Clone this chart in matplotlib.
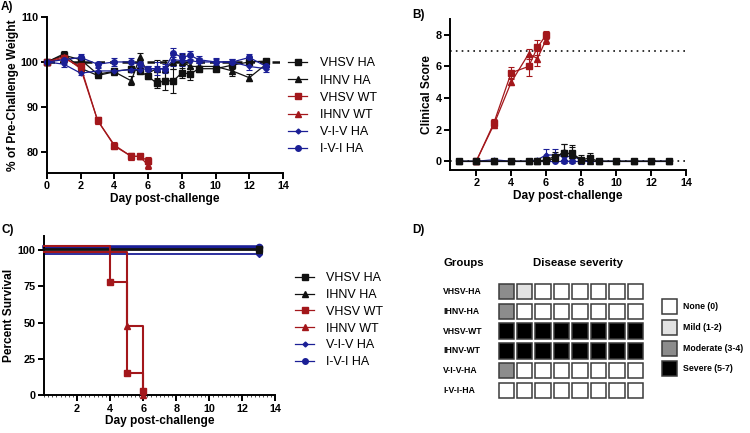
import matplotlib
matplotlib.use("Agg")
import matplotlib.pyplot as plt
from matplotlib.patches import Rectangle
from matplotlib.lines import Line2D

plt.rcParams['font.family'] = ['Liberation Sans', 'DejaVu Sans']

RED = '#a3171b'
BLUE = '#1b1f96'
BLK = '#111111'

# ---------------- Panel A data: weight ----------------
days_a = [0, 1, 2, 3, 4, 5, 5.5, 6, 6.5, 7, 7.5, 8, 8.5, 9, 10, 11, 12, 13]
vhsv_ha_w = [100, 101.5, 100.5, 97.3, 97.9, 98.4, 98.0, 96.8, 95.3, 95.8, 95.8, 97.6, 97.3, 98.5, 98.5, 99.3, 100.0, 100.2]
vhsv_ha_we = [0, 0.6, 0.6, 0.6, 0.5, 0.6, 0.6, 0.7, 1.0, 2.0, 2.6, 1.1, 1.3, 0.7, 0.6, 0.8, 0.5, 0.5]
ihnv_ha_w = [100, 101.8, 98.6, 97.0, 97.8, 95.8, 101.0, 97.5, 98.5, 98.5, 100.0, 100.0, 99.0, 99.0, 99.0, 98.0, 96.5, 99.5]
ihnv_ha_we = [0, 0.6, 0.6, 0.6, 0.5, 1.0, 1.0, 0.7, 2.0, 2.0, 1.5, 1.8, 1.5, 0.8, 0.7, 1.2, 0.8, 0.6]
vhsv_wt_w = [100, 100.8, 99.0, 87.0, 81.3, 79.0, 79.0, 78.0]
vhsv_wt_we = [0, 0.5, 0.6, 0.8, 0.6, 0.7, 0.5, 0.8]
ihnv_wt_w = [100, 101.2, 98.5, 87.0, 81.5, 79.0, 79.0, 77.0]
ihnv_wt_we = [0, 0.5, 0.6, 0.8, 0.6, 0.7, 0.5, 0.8]
viv_ha_w = [100, 99.5, 97.5, 98.0, 98.0, 98.3, 98.3, 98.5, 98.5, 98.5, 100.5, 100.3, 100.3, 100.0, 100.0, 100.0, 99.0, 98.5]
viv_ha_we = [0, 0.6, 0.5, 0.6, 0.5, 0.6, 0.6, 0.5, 1.5, 1.0, 1.5, 1.2, 1.2, 0.8, 0.8, 0.7, 0.8, 0.7]
ivi_ha_w = [100, 100.5, 101.0, 99.5, 100.0, 100.0, 99.5, 98.5, 98.5, 98.5, 102.0, 101.0, 101.5, 100.5, 100.0, 100.0, 101.0, 99.0]
ivi_ha_we = [0, 0.6, 0.7, 0.6, 0.8, 0.8, 0.7, 0.6, 0.6, 0.6, 1.0, 1.0, 0.9, 0.8, 0.7, 0.6, 0.8, 0.6]

# ---------------- Panel B data: clinical score ----------------
days_b = [1, 2, 3, 4, 5, 5.5, 6, 6.5, 7, 7.5, 8, 8.5, 9, 10, 11, 12, 13]
vhsv_ha_s = [0, 0, 0, 0, 0, 0, 0.1, 0.3, 0.5, 0.5, 0.1, 0.2, 0, 0, 0, 0, 0]
vhsv_ha_se = [0, 0, 0, 0, 0, 0, 0.1, 0.3, 0.6, 0.5, 0.3, 0.3, 0, 0, 0, 0, 0]
ihnv_ha_s = [0, 0, 0, 0, 0, 0, 0, 0.2, 0.6, 0.4, 0.1, 0, 0, 0, 0, 0, 0]
ihnv_ha_se = [0, 0, 0, 0, 0, 0, 0, 0.2, 0.5, 0.5, 0.2, 0, 0, 0, 0, 0, 0]
days_b_wt = [2, 3, 4, 5, 5.5, 6]
vhsv_wt_s = [0, 2.4, 5.6, 6.0, 7.2, 8.0]
vhsv_wt_se = [0, 0.25, 0.35, 0.6, 0.5, 0.25]
ihnv_wt_s = [0, 2.3, 5.0, 6.8, 6.5, 7.7]
ihnv_wt_se = [0, 0.2, 0.2, 0.3, 0.5, 0.3]
viv_ha_s = [0, 0, 0.1, 0, 0, 0.1, 0.4, 0.4, 0.3, 0.3, 0.1, 0, 0, 0, 0, 0, 0]
viv_ha_se = [0, 0, 0, 0, 0, 0.1, 0.35, 0.35, 0.3, 0.3, 0.1, 0, 0, 0, 0, 0, 0]
ivi_ha_s = [0] * 17
score_threshold = 7

# ---------------- Panel C data: survival (step curves) ----------------
surv_vhsv_ha_t = [0, 13]; surv_vhsv_ha = [100.5, 100.5]
surv_ihnv_ha_t = [0, 13]; surv_ihnv_ha = [99.8, 99.8]
surv_vhsv_wt_t = [0, 4, 5, 6]; surv_vhsv_wt = [103, 78, 15.5, 3]
surv_ihnv_wt_t = [0, 5, 6]; surv_ihnv_wt = [98.5, 48, 0]
surv_viv_ha_t = [0, 13]; surv_viv_ha = [97, 97]
surv_ivi_ha_t = [0, 13]; surv_ivi_ha = [101.8, 101.8]

# ---------------- Panel D data: severity grid ----------------
groups = ['VHSV-HA', 'IHNV-HA', 'VHSV-WT', 'IHNV-WT', 'V-I-V-HA', 'I-V-I-HA']
severity = [
    [2, 1, 0, 0, 0, 0, 0, 0],
    [2, 0, 0, 0, 0, 0, 0, 0],
    [3, 3, 3, 3, 3, 3, 3, 3],
    [3, 3, 3, 3, 3, 3, 3, 3],
    [2, 0, 0, 0, 0, 0, 0, 0],
    [0, 0, 0, 0, 0, 0, 0, 0],
]
sev_labels = ['None (0)', 'Mild (1-2)', 'Moderate (3-4)', 'Severe (5-7)']
sev_colors = ['#ffffff', '#e2e2e2', '#8c8c8c', '#000000']

series_names = ['VHSV HA', 'IHNV HA', 'VHSV WT', 'IHNV WT', 'V-I-V HA', 'I-V-I HA']
series_style = [
    dict(color=BLK, marker='s', ms=4),
    dict(color=BLK, marker='^', ms=4),
    dict(color=RED, marker='s', ms=4),
    dict(color=RED, marker='^', ms=4),
    dict(color=BLUE, marker='D', ms=2.5),
    dict(color=BLUE, marker='o', ms=4),
]

W, H = 750, 433
fig = plt.figure(figsize=(7.5, 4.33), dpi=100)

def px_axes(l, r, t, b):
    return fig.add_axes([l / W, 1 - b / H, (r - l) / W, (b - t) / H])

def style_axes(ax):
    for s in ['top', 'right']:
        ax.spines[s].set_visible(False)
    for s in ['left', 'bottom']:
        ax.spines[s].set_linewidth(1.4)
    ax.tick_params(width=1.4, length=4, labelsize=7.8, pad=2)
    for lab in ax.get_xticklabels() + ax.get_yticklabels():
        lab.set_fontweight('bold')

LBL = dict(fontsize=8.6, fontweight='bold')

# ---------- Panel D (background axes in pixel coordinates) ----------
axd = fig.add_axes([0, 0, 1, 1])
axd.set_xlim(0, W); axd.set_ylim(H, 0); axd.axis('off')
axd.text(443, 263, 'Groups', fontsize=8.2, fontweight='bold', va='center', ha='left')
axd.text(578, 263, 'Disease severity', fontsize=8.2, fontweight='bold', va='center', ha='center')
cx0, cdx, cw = 498.5, 18.45, 15.5
ry0, rdy, rh = 291.5, 19.8, 15.5
for i, g in enumerate(groups):
    yc = ry0 + i * rdy
    axd.text(443, yc, g, fontsize=6.2, fontweight='bold', va='center', ha='left')
    for j, v in enumerate(severity[i]):
        axd.add_patch(Rectangle((cx0 + j * cdx, yc - rh / 2), cw, rh,
                                facecolor=sev_colors[v], edgecolor='#3a3a3a', lw=1.1))
for k, (lab, col) in enumerate(zip(sev_labels, sev_colors)):
    yc = 306.5 + k * 20.8
    axd.add_patch(Rectangle((662, yc - 7.5), 15, 15, facecolor=col, edgecolor='#3a3a3a', lw=1.1))
    axd.text(683, yc, lab, fontsize=6.3, fontweight='bold', va='center', ha='left')

# ---------- Panel A ----------
axa = px_axes(47, 283, 17, 173)
weights = [(days_a, vhsv_ha_w, vhsv_ha_we), (days_a, ihnv_ha_w, ihnv_ha_we),
           (days_a[:8], vhsv_wt_w, vhsv_wt_we), (days_a[:8], ihnv_wt_w, ihnv_wt_we),
           (days_a, viv_ha_w, viv_ha_we), (days_a, ivi_ha_w, ivi_ha_we)]
axa.axhline(100, color=BLK, lw=1.8, ls=(0, (3, 2)), xmin=0, xmax=1, zorder=1)
for (x, y, e), st in zip(weights, series_style):
    axa.errorbar(x, y, yerr=e, color=st['color'], marker=st['marker'], ms=st['ms'],
                 lw=0.9, elinewidth=0.8, capsize=2, capthick=0.8, clip_on=False)
axa.set_xlim(0, 14); axa.set_ylim(75.3, 110)
axa.set_xticks(range(0, 15, 2)); axa.set_yticks([80, 90, 100, 110])
axa.set_xlabel('Day post-challenge', labelpad=1, **LBL)
axa.set_ylabel('% of Pre-Challenge Weight', labelpad=1, **LBL)
style_axes(axa)

handles = [Line2D([], [], color=st['color'], marker=st['marker'], ms=st['ms'], lw=0.9)
           for st in series_style]
fig.legend(handles, series_names, loc='upper left', bbox_to_anchor=(277 / W, 1 - 46 / H),
           frameon=False, fontsize=9, handlelength=1.5, handletextpad=1.0, labelspacing=0.42)

# ---------- Panel B ----------
axb = px_axes(450, 686, 19, 170)
axb.plot([0.5, 14], [score_threshold, score_threshold], color=BLK, lw=1.2, ls=(0, (1, 2.5)))
axb.plot([0.5, 14], [0, 0], color=BLK, lw=1.2, ls=(0, (1, 2.5)))
scores = [(days_b, vhsv_ha_s, vhsv_ha_se), (days_b, ihnv_ha_s, ihnv_ha_se),
          (days_b_wt, vhsv_wt_s, vhsv_wt_se), (days_b_wt, ihnv_wt_s, ihnv_wt_se),
          (days_b, viv_ha_s, viv_ha_se), (days_b, ivi_ha_s, None)]
order = [3, 2, 4, 5, 1, 0]
for idx in order:
    x, y, e = scores[idx]
    st = series_style[idx]
    axb.errorbar(x, y, yerr=e, color=st['color'], marker=st['marker'], ms=st['ms'],
                 lw=0.9, elinewidth=0.8, capsize=2, capthick=0.8, clip_on=False)
axb.set_xlim(0.5, 14); axb.set_ylim(-0.55, 9)
axb.set_xticks(range(2, 15, 2)); axb.set_yticks([0, 2, 4, 6, 8])
axb.set_xlabel('Day post-challenge', labelpad=1, **LBL)
axb.set_ylabel('Clinical Score', labelpad=2, **LBL)
style_axes(axb)

# ---------- Panel C ----------
axc = px_axes(44, 275.5, 235.5, 395.3)
surv = [(surv_vhsv_ha_t, surv_vhsv_ha), (surv_ihnv_ha_t, surv_ihnv_ha),
        (surv_vhsv_wt_t, surv_vhsv_wt), (surv_ihnv_wt_t, surv_ihnv_wt),
        (surv_viv_ha_t, surv_viv_ha), (surv_ivi_ha_t, surv_ivi_ha)]
lws = [1.3, 1.3, 1.5, 1.5, 1.3, 2.6]
zs = [3, 3, 5, 5, 2, 2]
for (t, s), st, lw, z in zip(surv, series_style, lws, zs):
    axc.step(t, s, where='post', color=st['color'], lw=lw, clip_on=False, zorder=z)
    axc.plot(t[1:], s[1:], ls='none', marker=st['marker'], ms=st['ms'] + 0.5,
             color=st['color'], clip_on=False, zorder=z + 1)
axc.set_xlim(0, 14); axc.set_ylim(0, 110)
axc.set_xticks(range(2, 15, 2)); axc.set_yticks([0, 25, 50, 75, 100])
axc.set_xticks([x / 4 for x in range(0, 57)], minor=True)
axc.tick_params(axis='x', which='minor', length=1.5, width=0.5)
axc.set_xlabel('Day post-challenge', labelpad=1, **LBL)
axc.set_ylabel('Percent Survival', labelpad=2, **LBL)
style_axes(axc)

handles_c = [Line2D([], [], color=st['color'], marker=st['marker'], ms=st['ms'], lw=0.9)
             for st in series_style]
fig.legend(handles_c, series_names, loc='upper left', bbox_to_anchor=(284 / W, 1 - 261 / H),
           frameon=False, fontsize=9, handlelength=1.5, handletextpad=1.0, labelspacing=0.38)

# ---------- panel letters ----------
for (x, y, s) in [(1, 7, 'A)'), (412, 15, 'B)'), (2, 230, 'C)'), (412, 230, 'D)')]:
    fig.text(x / W, 1 - y / H, s, fontsize=8.5, fontweight='bold', va='center', ha='left')

fig.savefig('out.png', dpi=100)
